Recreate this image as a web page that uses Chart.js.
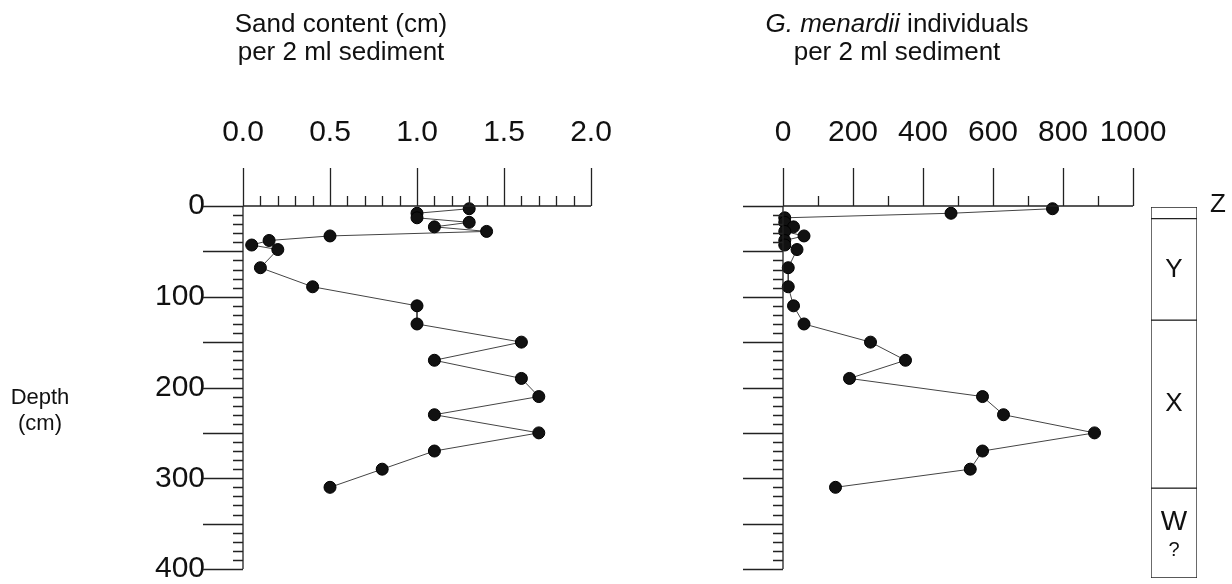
<!DOCTYPE html>
<html>
<head>
<meta charset="utf-8">
<script src="https://cdn.jsdelivr.net/npm/chart.js@4.4.0/dist/chart.umd.min.js"></script>
<style>
  body { margin: 0; background: #fff; }
  #wrap { position: relative; width: 1232px; height: 584px; font-family: "Liberation Sans", Arial, sans-serif; color: #111; }
  canvas { position: absolute; left: 0; top: 0; }
  .title { position: absolute; top: 9px; width: 400px; font-size: 26px; line-height: 28px; text-align: center; }
  .depth { position: absolute; left: 0; top: 384px; width: 80px; font-size: 22px; line-height: 26px; text-align: center; }
</style>
</head>
<body>
<div id="wrap">
  <canvas id="sandChart" width="1232" height="584"></canvas>
  <canvas id="countChart" width="1232" height="584"></canvas>
  <canvas id="zoneChart" width="1232" height="584"></canvas>
  <div class="title" style="left:141px">Sand content (cm)<br>per 2 ml sediment</div>
  <div class="title" style="left:697px"><i>G. menardii</i> individuals<br>per 2 ml sediment</div>
  <div class="depth">Depth<br>(cm)</div>
</div>
<script>
// sample depths (cm), same for both profiles
const depth = [3, 8, 13, 18, 23, 28, 33, 38, 43, 48, 68, 89, 110, 130, 150, 170, 190, 210, 230, 250, 270, 290, 310];
// sand content per 2 ml sediment
const sand = [1.3, 1.0, 1.0, 1.3, 1.1, 1.4, 0.5, 0.15, 0.05, 0.2, 0.1, 0.4, 1.0, 1.0, 1.6, 1.1, 1.6, 1.7, 1.1, 1.7, 1.1, 0.8, 0.5];
// G. menardii individuals per 2 ml sediment
const menardii = [770, 480, 5, 5, 30, 5, 60, 5, 5, 40, 15, 15, 30, 60, 250, 350, 190, 570, 630, 890, 570, 535, 150];

const sandTickLabels = ['0.0', '0.5', '1.0', '1.5', '2.0'];
const countTickLabels = ['0', '200', '400', '600', '800', '1000'];
const depthTickLabels = ['0', '100', '200', '300', '400'];

// zones on the right hand column
const zoneNames = ['Z', 'Y', 'X', 'W'];
const zoneNotes = ['', '', '', '?'];
const zoneTop = [0, 13, 126, 313];
const zoneBottom = [13, 126, 313, 413];

Chart.defaults.font.family = '"Liberation Sans", Arial, sans-serif';
Chart.defaults.font.size = 30;
Chart.defaults.color = '#111';
Chart.defaults.animation = false;

// axis lines with long major and short minor ticks
const axisTicks = {
  id: 'axisTicks',
  afterDraw(chart, args, opts) {
    const { ctx, chartArea: a, scales: { x, y } } = chart;
    ctx.save();
    ctx.strokeStyle = '#222';
    ctx.lineWidth = 1.3;
    ctx.beginPath();
    ctx.moveTo(a.left, a.top);
    ctx.lineTo(a.right, a.top);
    ctx.moveTo(a.left, a.top);
    ctx.lineTo(a.left, a.bottom);
    const nx = Math.round((x.max - x.min) / opts.xMinor);
    const kx = Math.round(opts.xMajor / opts.xMinor);
    for (let i = 0; i <= nx; i++) {
      const px = Math.round(x.getPixelForValue(x.min + i * opts.xMinor)) + 0.5;
      ctx.moveTo(px, a.top);
      ctx.lineTo(px, a.top - (i % kx === 0 ? 38 : 10));
    }
    const ny = Math.round((y.max - y.min) / opts.yMinor);
    const ky = Math.round(opts.yMajor / opts.yMinor);
    for (let i = 0; i <= ny; i++) {
      const py = Math.round(y.getPixelForValue(y.min + i * opts.yMinor)) + 0.5;
      ctx.moveTo(a.left, py);
      ctx.lineTo(a.left - (i % ky === 0 ? 40 : 10), py);
    }
    ctx.stroke();
    ctx.restore();
  }
};

function makeProfile(id, values, xMax, xStep, xLabels, xMinor, xMajor, showDepth, area) {
  return new Chart(document.getElementById(id), {
    type: 'scatter',
    data: {
      datasets: [{
        data: depth.map((d, i) => ({ x: values[i], y: d })),
        showLine: true,
        borderColor: '#444',
        borderWidth: 1,
        pointRadius: 6,
        pointBackgroundColor: '#111',
        pointBorderColor: '#000',
        pointBorderWidth: 1,
        clip: false
      }]
    },
    options: {
      responsive: false,
      devicePixelRatio: 1,
      layout: { padding: { left: 0, top: 0, right: 1232 - area.right, bottom: 584 - area.bottom } },
      plugins: {
        legend: { display: false },
        tooltip: { enabled: false },
        axisTicks: { xMinor: xMinor, xMajor: xMajor, yMinor: 10, yMajor: 50 }
      },
      scales: {
        x: {
          position: 'top',
          min: 0,
          max: xMax,
          grid: { display: false, drawTicks: true, tickLength: 45 },
          border: { display: false },
          ticks: { stepSize: xStep, padding: 10, maxRotation: 0, autoSkip: false,
            callback: v => xLabels[Math.round(v / xStep)] },
          afterFit: s => { s.height = area.top; s.paddingLeft = s.paddingRight = 0; }
        },
        y: {
          position: 'left',
          reverse: true,
          min: 0,
          max: 400,
          grid: { display: false, drawTicks: true, tickLength: 30 },
          border: { display: false },
          ticks: { display: showDepth, stepSize: 100, padding: 8,
            callback: v => depthTickLabels[Math.round(v / 100)] },
          afterFit: s => { s.width = area.left; s.paddingTop = s.paddingBottom = 0; }
        }
      }
    },
    plugins: [axisTicks]
  });
}

makeProfile('sandChart', sand, 2, 0.5, sandTickLabels, 0.1, 0.5, true,
  { left: 243, right: 591, top: 206, bottom: 569 });
makeProfile('countChart', menardii, 1000, 200, countTickLabels, 100, 200, false,
  { left: 783, right: 1133, top: 206, bottom: 569 });

// zone letters written inside (Z beside) each box
const zoneText = {
  id: 'zoneText',
  afterDraw(chart) {
    const { ctx, chartArea: a, scales: { y } } = chart;
    ctx.save();
    ctx.fillStyle = '#111';
    ctx.textAlign = 'center';
    ctx.textBaseline = 'middle';
    zoneNames.forEach((name, i) => {
      const mid = (y.getPixelForValue(zoneTop[i]) + y.getPixelForValue(zoneBottom[i])) / 2;
      const cx = (a.left + a.right) / 2;
      ctx.font = '26px "Liberation Sans", Arial, sans-serif';
      if (i === 0) {
        ctx.fillText(name, a.right + 21, mid - 8);
      } else if (zoneNotes[i]) {
        ctx.font = '28px "Liberation Sans", Arial, sans-serif';
        ctx.fillText(name, cx, mid - 11);
        ctx.font = '20px "Liberation Sans", Arial, sans-serif';
        ctx.fillText(zoneNotes[i], cx, mid + 17);
      } else {
        ctx.fillText(name, cx, mid);
      }
    });
    ctx.restore();
  }
};

new Chart(document.getElementById('zoneChart'), {
  type: 'bar',
  data: {
    labels: ['zone'],
    datasets: zoneNames.map((name, i) => ({
      label: name,
      data: [[zoneTop[i], zoneBottom[i]]],
      backgroundColor: '#fff',
      borderColor: '#222',
      borderWidth: 1,
      borderSkipped: false,
      grouped: false,
      barPercentage: 1,
      categoryPercentage: 1
    }))
  },
  options: {
    responsive: false,
    devicePixelRatio: 1,
    layout: { padding: { left: 1151, right: 1232 - 1197, top: 207, bottom: 584 - 578 } },
    plugins: { legend: { display: false }, tooltip: { enabled: false } },
    scales: {
      x: { display: false },
      y: { display: false, reverse: true, min: 0, max: 413 }
    }
  },
  plugins: [zoneText]
});
</script>
</body>
</html>
